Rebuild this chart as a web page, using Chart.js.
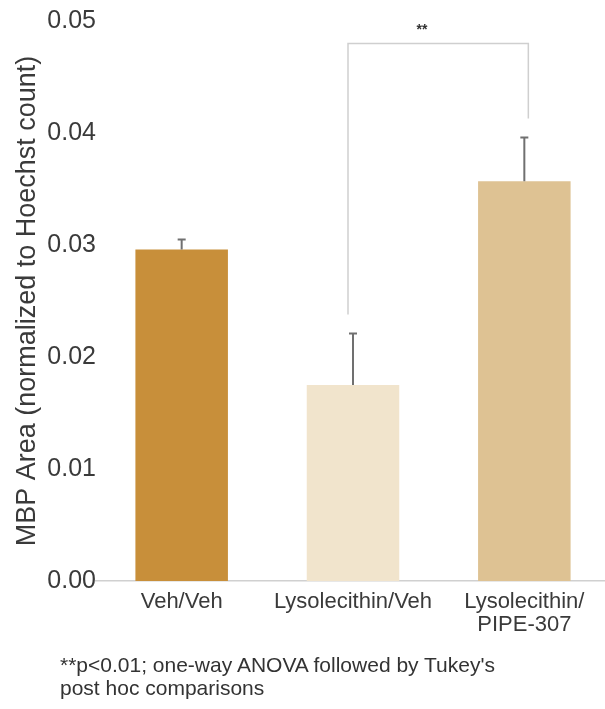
<!DOCTYPE html>
<html>
<head>
<meta charset="utf-8">
<script src="https://cdn.jsdelivr.net/npm/chart.js@4"></script>
<style>
  html, body { margin: 0; padding: 0; background: #fff; overflow: hidden; width: 605px; height: 709px; }
  #wrap { position: absolute; left: 0; top: 0; width: 620px; height: 709px; }
  #note { position: absolute; left: 60px; top: 653px; font-family: "Liberation Sans", Arial, sans-serif; font-size: 21px; line-height: 23px; color: #333; white-space: nowrap; }
</style>
</head>
<body>
<div id="wrap"><canvas id="c"></canvas></div>
<div id="note">**p&lt;0.01; one-way ANOVA followed by Tukey's<br>post hoc comparisons</div>
<script>
// ---- data ----
const categories = ["Veh/Veh", "Lysolecithin/Veh", ["Lysolecithin/", "PIPE-307"]];
const meanValues = [0.0296, 0.0175, 0.0357];
const errorTops = [0.0305, 0.0221, 0.0396];
const barColors = ["#C88F3A", "#F1E4CC", "#DEC293"];
const yTicks = [0, 0.01, 0.02, 0.03, 0.04, 0.05];
const sigFrom = 1, sigTo = 2;
const sigTop = 0.0480;
const sigLeftEnd = 0.0238;
const sigRightEnd = 0.0413;
const sigLabel = "**";

const FONT = '"Liberation Sans", Arial, sans-serif';

const errorBarPlugin = {
  id: 'errorBars',
  afterDatasetsDraw(chart) {
    const ctx = chart.ctx;
    const x = chart.scales.x, y = chart.scales.y;
    ctx.save();
    ctx.strokeStyle = '#707070';
    ctx.lineWidth = 2;
    meanValues.forEach((v, i) => {
      const px = x.getPixelForValue(i);
      const y0 = y.getPixelForValue(v);
      const y1 = y.getPixelForValue(errorTops[i]);
      ctx.beginPath();
      ctx.moveTo(px, y0);
      ctx.lineTo(px, y1);
      ctx.moveTo(px - 4, y1);
      ctx.lineTo(px + 4, y1);
      ctx.stroke();
    });
    // significance bracket
    const xl = x.getPixelForValue(sigFrom) - 5;
    const xr = x.getPixelForValue(sigTo) + 4;
    const yt = y.getPixelForValue(sigTop);
    ctx.strokeStyle = '#cfcfcf';
    ctx.lineWidth = 1.5;
    ctx.beginPath();
    ctx.moveTo(xl, y.getPixelForValue(sigLeftEnd));
    ctx.lineTo(xl, yt);
    ctx.lineTo(xr, yt);
    ctx.lineTo(xr, y.getPixelForValue(sigRightEnd));
    ctx.stroke();
    ctx.fillStyle = '#333';
    ctx.font = 'bold 14px ' + FONT;
    ctx.textAlign = 'center';
    ctx.textBaseline = 'middle';
    const lx = xl + (xr - xl) * 0.41;
    ctx.fillText(sigLabel, lx, yt - 13);
    ctx.restore();
  }
};

new Chart(document.getElementById('c'), {
  type: 'bar',
  data: {
    labels: categories,
    datasets: [{
      data: meanValues,
      backgroundColor: barColors,
      borderWidth: 0,
      barPercentage: 0.54,
      categoryPercentage: 1.0
    }]
  },
  options: {
    responsive: true,
    maintainAspectRatio: false,
    animation: false,
    devicePixelRatio: 1,
    layout: { padding: { top: 21, right: 10, bottom: 0, left: 0 } },
    plugins: { legend: { display: false }, tooltip: { enabled: false } },
    scales: {
      x: {
        grid: { display: false, drawTicks: false },
        border: { display: true, color: '#d0d0d0', width: 1.5 },
        ticks: {
          color: '#3a3a3a',
          font: { family: FONT, size: 22, lineHeight: 1.05 },
          padding: 9,
          maxRotation: 0,
          autoSkip: false
        },
        afterFit(scale) { scale.height = 128; }
      },
      y: {
        min: 0,
        max: 0.05,
        afterBuildTicks(scale) { scale.ticks = yTicks.map(v => ({ value: v })); },
        grid: { display: false, drawTicks: false },
        border: { display: false },
        ticks: {
          color: '#3a3a3a',
          font: { family: FONT, size: 25 },
          padding: 0,
          callback: (v) => Number(v).toFixed(2)
        },
        title: {
          display: true,
          text: 'MBP Area (normalized to Hoechst count)',
          color: '#3a3a3a',
          font: { family: FONT, size: 27 },
          padding: { top: 11, bottom: 0 }
        },
        afterFit(scale) { scale.width = 96; }
      }
    }
  },
  plugins: [errorBarPlugin]
});
</script>
</body>
</html>
